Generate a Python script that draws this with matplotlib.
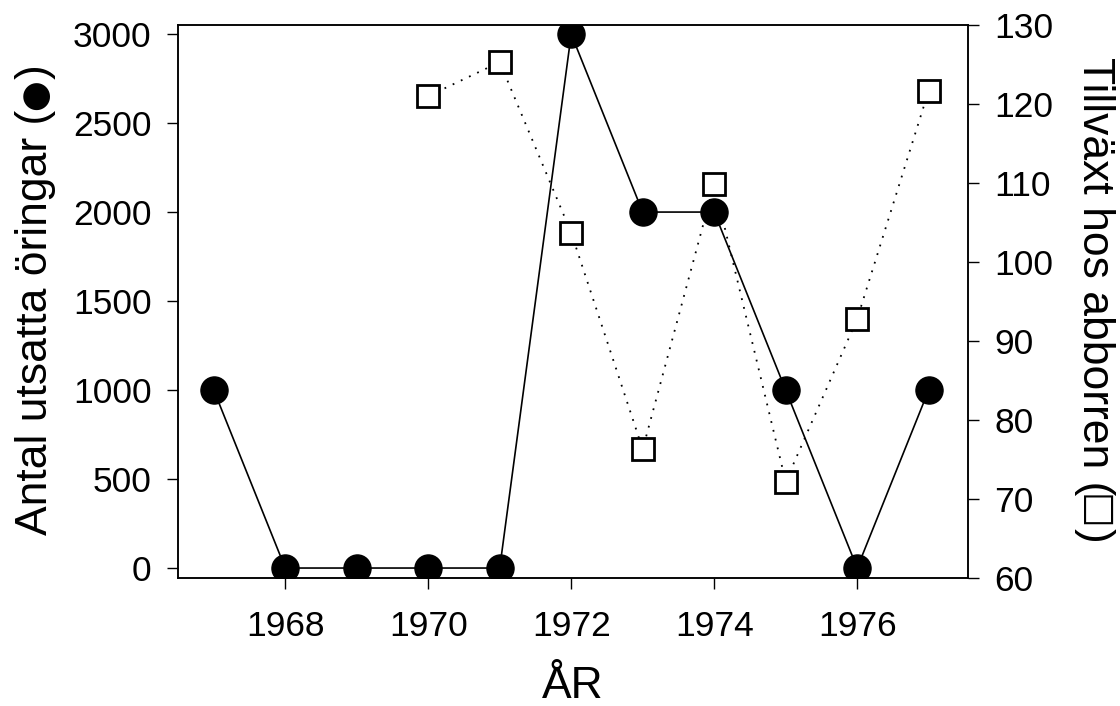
import matplotlib
matplotlib.use("Agg")
import matplotlib.pyplot as plt
from matplotlib.textpath import TextPath
from matplotlib.font_manager import FontProperties
from matplotlib.transforms import IdentityTransform

years = [1967, 1968, 1969, 1970, 1971, 1972, 1973, 1974, 1975, 1976, 1977]
trout = [1000, 0, 0, 0, 0, 3000, 2000, 2000, 1000, 0, 1000]

perch_years = [1970, 1971, 1972, 1973, 1974, 1975, 1976, 1977]
perch_growth = [121.0, 125.3, 103.7, 76.3, 109.9, 72.2, 92.8, 121.7]

left_ticks = [0, 500, 1000, 1500, 2000, 2500, 3000]
right_ticks = [60, 70, 80, 90, 100, 110, 120, 130]
x_ticks = [1968, 1970, 1972, 1974, 1976]

left_label = ('Antal utsatta öringar (', '●', ')')
right_label = ('Tillväxt hos abborren (', '□', ')')
x_label = 'ÅR'

fam = ['Liberation Sans', 'DejaVu Sans']
plt.rcParams['font.family'] = fam

DPI = 100
W, H = 1120, 706
fig = plt.figure(figsize=(W / DPI, H / DPI), dpi=DPI)
L, R, B, T = 178, 968, 578, 25
ax = fig.add_axes([L / W, 1 - B / H, (R - L) / W, (B - T) / H])
ax2 = ax.twinx()

ax2.plot(perch_years, perch_growth, linestyle=(0, (1, 4)), color='black', lw=1.3,
         marker='s', markersize=16.5, markerfacecolor='white', markeredgecolor='black',
         markeredgewidth=2.0)
ax.plot(years, trout, linestyle='-', color='black', lw=1.2,
        marker='o', markersize=19.5, markerfacecolor='black', markeredgecolor='black')

ax.set_zorder(ax2.get_zorder() + 1)
ax.patch.set_visible(False)

ax.set_xlim(1966.5, 1977.55)
ax.set_ylim(-56, 3051)
ax2.set_ylim(60, 130)

ax.set_xticks(x_ticks)
ax.set_yticks(left_ticks)
ax2.set_yticks(right_ticks)

for a in (ax, ax2):
    for s in a.spines.values():
        s.set_linewidth(1.1)
TS = 25.5
ax.tick_params(axis='both', direction='out', length=8, width=1.0, labelsize=TS, top=False)
ax.tick_params(axis='y', pad=11)
ax.tick_params(axis='x', pad=15)
ax2.tick_params(axis='y', direction='out', length=8, width=1.0, labelsize=TS, pad=11)

LS = 32  # label font size (pt)
P2PX = DPI / 72.0


def ink(s, size, family):
    e = TextPath((0, 0), s, size=size, prop=FontProperties(family=family)).get_extents()
    return e.x0 * P2PX, e.x1 * P2PX, e.y0 * P2PX, e.y1 * P2PX


def sym_size(sym, target_px):
    x0, x1, y0, y1 = ink(sym, 10, 'DejaVu Sans')
    return 10 * target_px / max(x1 - x0, y1 - y0)


def rotated_label(pieces, sym_px, xb, ystart, rotation):
    """Place text pieces along a rotated baseline; xb baseline screen x, ystart ink start y (top-origin px)."""
    head, sym, tail = pieces
    hx0, hx1, _, _ = ink(head, LS, 'Liberation Sans')
    px0, px1, py0, py1 = ink('(', LS, 'Liberation Sans')
    pc = 0.5 * (py0 + py1)
    ss = sym_size(sym, sym_px)
    sx0, sx1, sy0, sy1 = ink(sym, ss, 'DejaVu Sans')
    sc = 0.5 * (sy0 + sy1)
    tx0, tx1, _, _ = ink(tail, LS, 'Liberation Sans')
    gap = 2.5
    items = []
    u = -hx0
    items.append((head, u, 0.0, LS, fam))
    u_sym = hx1 + gap - sx0 - hx0
    items.append((sym, u_sym, pc - sc, ss, ['DejaVu Sans']))
    u_tail = u_sym + sx1 + gap - tx0
    items.append((tail, u_tail, 0.0, LS, fam))
    y0 = H - ystart  # bottom-origin
    for s, uu, vv, sz, f in items:
        if rotation == 90:
            x, y = xb - vv, y0 + uu
        else:
            x, y = xb + vv, y0 - uu
        fig.text(x, y, s, rotation=rotation, rotation_mode='anchor', ha='left',
                 va='baseline', fontsize=sz, family=f, transform=IdentityTransform())


rotated_label(left_label, 27, 47, 535, 90)
rotated_label(right_label, 29, 1083, 58, 270)

fig.text(573, H - 698, x_label, ha='center', va='baseline', fontsize=LS, family=fam,
         transform=IdentityTransform())

fig.savefig('out.png', dpi=DPI)
